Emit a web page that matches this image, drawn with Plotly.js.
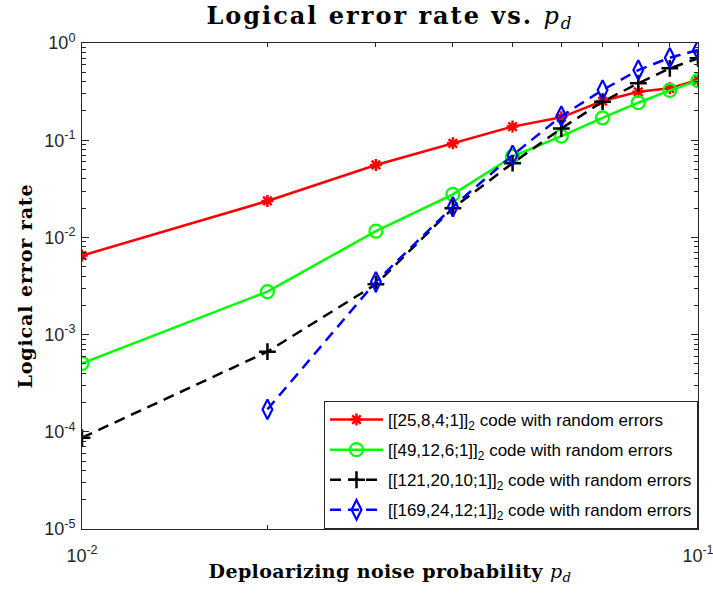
<!DOCTYPE html>
<html>
<head>
<meta charset="utf-8">
<script src="https://cdn.plot.ly/plotly-3.0.1.min.js"></script>
<style>
html,body{margin:0;padding:0;background:#fff;}
#chart{width:713px;height:594px;}
#chart .gtitle{letter-spacing:2px;}
#chart .xtitle{letter-spacing:0.4px;}
#chart .ytitle{letter-spacing:0.9px;}
</style>
</head>
<body>
<div id="chart"></div>
<script>
// Depolarizing noise probability p_d
const pd = [0.01, 0.02, 0.03, 0.04, 0.05, 0.06, 0.07, 0.08, 0.09, 0.1];
const pd169 = [0.02, 0.03, 0.04, 0.05, 0.06, 0.07, 0.08, 0.09, 0.1];

const code25 = [0.0065, 0.0237, 0.0556, 0.093, 0.138, 0.172, 0.253, 0.315, 0.342, 0.416];
const code49 = [0.000506, 0.00277, 0.0116, 0.0277, 0.068, 0.110, 0.170, 0.243, 0.326, 0.41];
const code121 = [0.000087, 0.000667, 0.0033, 0.020, 0.058, 0.132, 0.249, 0.385, 0.549, 0.695];
const code169 = [0.00017, 0.0035, 0.0207, 0.070, 0.177, 0.328, 0.527, 0.706, 0.847];

const seriesNames = [
  "[[25,8,4;1]]<sub>2</sub> code with random errors",
  "[[49,12,6;1]]<sub>2</sub> code with random errors",
  "[[121,20,10;1]]<sub>2</sub> code with random errors",
  "[[169,24,12;1]]<sub>2</sub> code with random errors"
];

const xMajor = [0.01, 0.1];
const xMajorText = ["10<sup>-2</sup>", "10<sup>-1</sup>"];
const xMinor = [0.02, 0.03, 0.04, 0.05, 0.06, 0.07, 0.08, 0.09];
const yMajor = [1e-5, 1e-4, 1e-3, 1e-2, 1e-1, 1];
const yMajorText = ["10<sup>-5</sup>", "10<sup>-4</sup>", "10<sup>-3</sup>", "10<sup>-2</sup>", "10<sup>-1</sup>", "10<sup>0</sup>"];
const yMinorMantissas = [2, 3, 4, 5, 6, 7, 8, 9];
const yMinor = [];
for (let e = -5; e < 0; e++) { for (const m of yMinorMantissas) yMinor.push(m * Math.pow(10, e)); }

const traces = [
  {x: pd, y: code25, name: seriesNames[0], mode: 'lines+markers', legendgroup: 'a',
   line: {color: '#ff0000', width: 2.5},
   marker: {symbol: 'asterisk-open', size: 10, color: '#ff0000', line: {color: '#ff0000', width: 2.5}}},
  {x: pd, y: code49, name: seriesNames[1], mode: 'lines+markers', legendgroup: 'b',
   line: {color: '#00ff00', width: 2.5},
   marker: {symbol: 'circle-open', size: 13, color: '#00ff00', line: {color: '#00ff00', width: 2.2}}},
  {x: pd, y: code121, name: seriesNames[2], mode: 'lines+markers', legendgroup: 'c',
   line: {color: '#000000', width: 2.5, dash: '11px,7px'},
   marker: {symbol: 'cross-thin-open', size: 12, color: '#000000', line: {color: '#000000', width: 2.5}}},
  {x: pd169, y: code169, name: seriesNames[3], mode: 'lines+markers', legendgroup: 'd',
   line: {color: '#0000ff', width: 2.5, dash: '11px,7px'},
   marker: {symbol: 'diamond-tall-open', size: 14, color: '#0000ff', line: {color: '#0000ff', width: 2.2}}}
];

const axisCommon = {
  type: 'log', showgrid: false, zeroline: false,
  showline: true, linecolor: '#262626', linewidth: 1, mirror: 'ticks',
  ticks: 'inside', ticklen: 7, tickcolor: '#262626', tickwidth: 1,
  tickfont: {family: 'Liberation Sans, Arial, sans-serif', size: 18, color: '#262626'},
  tickmode: 'array', ticklabeloverflow: 'allow'
};

const serif = 'DejaVu Serif, Liberation Serif, serif';

const layout = {
  width: 713, height: 594,
  margin: {l: 82, r: 15, t: 43, b: 65},
  paper_bgcolor: '#ffffff', plot_bgcolor: '#ffffff',
  showlegend: true,
  title: {text: '<b>Logical error rate vs. </b><i>p</i><sub><i>d</i></sub>',
          font: {family: serif, size: 24, color: '#000'},
          xref: 'paper', x: 0.5, xanchor: 'center', yref: 'container', y: 0.973, yanchor: 'middle'},
  xaxis: Object.assign({}, axisCommon, {
    range: [-2, -1], tickvals: xMajor, ticktext: xMajorText, ticklabelstandoff: 10,
    minor: {tickmode: 'array', tickvals: xMinor, ticks: 'inside', ticklen: 4, tickcolor: '#262626', showgrid: false},
    title: {text: '<b>Deploarizing noise probability </b><i>p</i><sub><i>d</i></sub>',
            font: {family: serif, size: 19, color: '#000'}, standoff: 0}
  }),
  yaxis: Object.assign({}, axisCommon, {
    range: [-5, 0], tickvals: yMajor, ticktext: yMajorText, ticklabelstandoff: 2,
    minor: {tickmode: 'array', tickvals: yMinor, ticks: 'inside', ticklen: 4, tickcolor: '#262626', showgrid: false},
    title: {text: '<b>Logical error rate</b>',
            font: {family: serif, size: 19, color: '#000'}, standoff: 6}
  }),
  legend: {
    x: 1, y: 0, xanchor: 'right', yanchor: 'bottom',
    bgcolor: '#ffffff', bordercolor: '#262626', borderwidth: 1,
    font: {family: 'Liberation Sans, Arial, sans-serif', size: 17, color: '#000'},
    tracegroupgap: 5, itemwidth: 53
  }
};

Plotly.newPlot('chart', traces, layout, {displayModeBar: false, staticPlot: true});
</script>
</body>
</html>
